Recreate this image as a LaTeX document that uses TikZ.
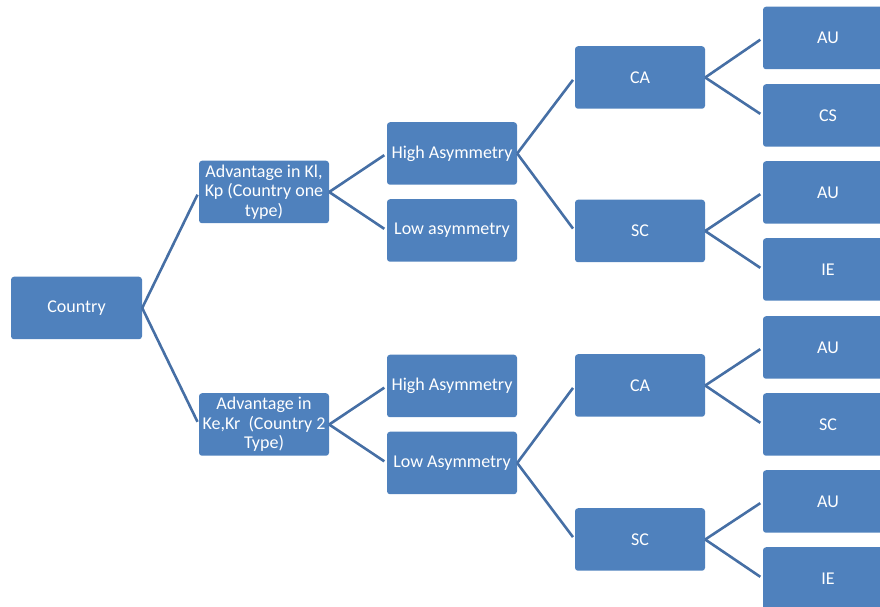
\documentclass[tikz,border=0pt]{standalone}
\usepackage{fontspec}
\setmainfont{Carlito}
\definecolor{boxblue}{RGB}{79,129,189}
\definecolor{linkblue}{RGB}{70,111,165}
\begin{document}
\begin{tikzpicture}[x=1pt,y=1pt,
  box/.style={fill=boxblue, rounded corners=3pt, minimum width=130pt, minimum height=62.5pt,
    text=white, align=center, inner sep=0pt, font=\fontsize{18}{19.4}\selectfont},
  link/.style={draw=linkblue, line width=2.6pt}]
\useasboundingbox (0,0) rectangle (880,607);
\clip (0,0) rectangle (880,607);
% level 0
\node[box, minimum width=131pt] (country) at (76.5,{607-308}) {Country};
% level 1
\node[box] (adv1) at (264,{607-192}) {Advantage in Kl,\\Kp (Country one\\type)};
\node[box] (adv2) at (264,{607-424.5}) {Advantage in\\Ke,Kr\ \ (Country 2\\Type)};
% level 2
\node[box] (hi1) at (452,{607-153.5}) {High Asymmetry};
\node[box] (lo1) at (452,{607-230.5}) {Low asymmetry};
\node[box] (hi2) at (452,{607-386}) {High Asymmetry};
\node[box] (lo2) at (452,{607-463}) {Low Asymmetry};
% level 3
\node[box] (ca1) at (640,{607-77.5}) {CA};
\node[box] (sc1) at (640,{607-231}) {SC};
\node[box] (ca2) at (640,{607-385.5}) {CA};
\node[box] (sc2) at (640,{607-539.5}) {SC};
% level 4
\node[box] (l1) at (828,{607-38}) {AU};
\node[box] (l2) at (828,{607-115.5}) {CS};
\node[box] (l3) at (828,{607-192.5}) {AU};
\node[box] (l4) at (828,{607-269.5}) {IE};
\node[box] (l5) at (828,{607-347.5}) {AU};
\node[box] (l6) at (828,{607-424.5}) {SC};
\node[box] (l7) at (828,{607-501.5}) {AU};
\node[box] (l8) at (828,{607-578.5}) {IE};
% connectors
\foreach \p/\c in {country/adv1,country/adv2,adv1/hi1,adv1/lo1,adv2/hi2,adv2/lo2,
  hi1/ca1,hi1/sc1,lo2/ca2,lo2/sc2,ca1/l1,ca1/l2,sc1/l3,sc1/l4,ca2/l5,ca2/l6,sc2/l7,sc2/l8}
  \draw[link, shorten >=3pt] (\p.east) -- (\c.west);
\end{tikzpicture}
\end{document}
